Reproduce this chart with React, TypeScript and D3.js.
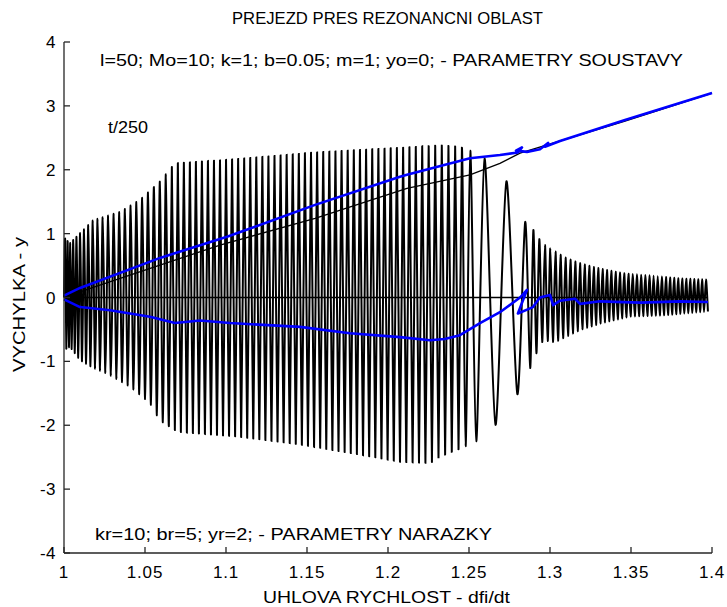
import React from "react";
import * as d3 from "d3";

// ---------- data ----------
const xTicks = [1, 1.05, 1.1, 1.15, 1.2, 1.25, 1.3, 1.35, 1.4];
const xTickLabels = ["1", "1.05", "1.1", "1.15", "1.2", "1.25", "1.3", "1.35", "1.4"];
const yTicks = [-4, -3, -2, -1, 0, 1, 2, 3, 4];
const yTickLabels = ["-4", "-3", "-2", "-1", "0", "1", "2", "3", "4"];

// upper envelope of the oscillation y(dfi/dt)
const upperX = [1.0, 1.0037, 1.018, 1.0346, 1.047, 1.059, 1.0685, 1.099, 1.155, 1.212, 1.232, 1.244, 1.2506, 1.265, 1.278, 1.284, 1.29, 1.295, 1.309, 1.317, 1.328, 1.345, 1.36, 1.38, 1.3975];
const upperY = [0.93, 0.85, 1.21, 1.34, 1.53, 1.81, 2.1, 2.15, 2.27, 2.35, 2.38, 2.36, 2.3, 2.1, 1.65, 1.2, 1.05, 0.85, 0.63, 0.55, 0.47, 0.38, 0.35, 0.3, 0.28];
// lower envelope
const lowerX = [1.0, 1.0037, 1.0099, 1.018, 1.028, 1.041, 1.053, 1.059, 1.07, 1.1086, 1.1457, 1.1827, 1.2074, 1.226, 1.235, 1.246, 1.2586, 1.271, 1.2846, 1.29, 1.2957, 1.303, 1.3185, 1.332, 1.349, 1.37, 1.3975];
const lowerY = [-0.82, -0.77, -0.98, -1.1, -1.21, -1.4, -1.65, -1.92, -2.1, -2.18, -2.3, -2.46, -2.57, -2.59, -2.46, -2.35, -2.2, -1.87, -1.32, -0.95, -0.67, -0.7, -0.51, -0.4, -0.3, -0.28, -0.22];
// oscillation period (in dfi/dt units) along the run
const periodX = [1.0, 1.01, 1.025, 1.06, 1.2, 1.245, 1.252, 1.258, 1.275, 1.282, 1.288, 1.3, 1.33, 1.4];
const periodV = [0.0014, 0.0024, 0.0034, 0.0037, 0.0038, 0.0042, 0.008, 0.0135, 0.0135, 0.008, 0.0038, 0.0032, 0.0027, 0.0024];

// thin black line "t/250"
const tLineX = [1.0, 1.018, 1.0963, 1.155, 1.2117, 1.2506, 1.2691, 1.2815, 1.3463, 1.4];
const tLineY = [0.0, 0.16, 0.82, 1.24, 1.71, 1.92, 2.1, 2.26, 2.76, 3.2];

// blue upper curve
const blueUpX = [1.0, 1.0099, 1.0593, 1.1006, 1.155, 1.2074, 1.2117, 1.2506, 1.2691, 1.2802, 1.2827, 1.279, 1.2858, 1.2938, 1.2988, 1.2969, 1.3062, 1.3463, 1.4];
const blueUpY = [0.03, 0.15, 0.62, 0.95, 1.45, 1.89, 1.92, 2.18, 2.23, 2.27, 2.35, 2.3, 2.28, 2.32, 2.42, 2.36, 2.45, 2.78, 3.2];
// blue lower curve
const blueLoX = [1.0, 1.0099, 1.0284, 1.0531, 1.0685, 1.084, 1.1025, 1.1457, 1.1765, 1.2074, 1.2259, 1.235, 1.2444, 1.2568, 1.2691, 1.2815, 1.2858, 1.2802, 1.2895, 1.2938, 1.3, 1.3019, 1.3062, 1.3154, 1.3185, 1.3309, 1.3556, 1.3802, 1.3975];
const blueLoY = [-0.03, -0.15, -0.2, -0.3, -0.4, -0.36, -0.4, -0.46, -0.56, -0.62, -0.67, -0.65, -0.59, -0.4, -0.23, 0.0, 0.12, -0.25, -0.15, 0.0, 0.04, -0.12, -0.05, -0.02, -0.1, -0.06, -0.08, -0.06, -0.07];

const zeroLineX = [1.0, 1.3975];
const zeroLineY = [0, 0];

const FONT = "'Liberation Sans', Arial, sans-serif";

export default function App() {
  const W = 727, H = 607;
  const x = d3.scaleLinear().domain([1, 1.4]).range([64, 712]);
  const y = d3.scaleLinear().domain([-4, 4]).range([553, 42]);

  const upEnv = d3.scaleLinear().domain(upperX).range(upperY).clamp(true);
  const loEnv = d3.scaleLinear().domain(lowerX).range(lowerY).clamp(true);
  const per = d3.scaleLinear().domain(periodX).range(periodV).clamp(true);

  // peaks of the oscillation, alternating between envelopes
  const osc: [number, number][] = [[1.0, 0]];
  let cx = 1.0;
  let up = true;
  const xEnd = 1.3975;
  while (cx < xEnd) {
    cx += per(cx) / 2;
    if (cx > xEnd) break;
    osc.push([cx, up ? upEnv(cx) : loEnv(cx)]);
    up = !up;
  }

  const zip = (a: number[], b: number[]) => a.map((v, i) => [v, b[i]] as [number, number]);
  const lineSmooth = d3.line<[number, number]>().x(d => x(d[0])).y(d => y(d[1])).curve(d3.curveCardinal.tension(0.2));
  const line = d3.line<[number, number]>().x(d => x(d[0])).y(d => y(d[1]));

  const axisColor = "#262626";
  const fs = 17;

  return (
    <svg width={W} height={H} style={{ position: "absolute", left: 0, top: 0, background: "#fff" }} fontFamily={FONT}>
      <rect width={W} height={H} fill="#fff" />
      {/* oscillation */}
      <path d={lineSmooth(osc) || ""} fill="none" stroke="#000" strokeWidth={2.0} />
      <path d={line(zip(zeroLineX, zeroLineY)) || ""} fill="none" stroke="#000" strokeWidth={1.3} />
      <path d={line(zip(tLineX, tLineY)) || ""} fill="none" stroke="#000" strokeWidth={1.3} />
      <path d={line(zip(blueUpX, blueUpY)) || ""} fill="none" stroke="#0000ff" strokeWidth={2.6} strokeLinejoin="round" />
      <path d={line(zip(blueLoX, blueLoY)) || ""} fill="none" stroke="#0000ff" strokeWidth={2.6} strokeLinejoin="round" />

      {/* axes */}
      <line x1={x(1)} x2={x(1)} y1={y(-4)} y2={y(4)} stroke={axisColor} strokeWidth={1.3} />
      <line x1={x(1)} x2={x(1.4)} y1={y(-4)} y2={y(-4)} stroke={axisColor} strokeWidth={1.3} />
      {yTicks.map((t, i) => (
        <g key={"y" + i}>
          <line x1={x(1)} x2={x(1) + 6} y1={y(t)} y2={y(t)} stroke={axisColor} strokeWidth={1.3} />
          <text x={x(1) - 8} y={y(t)} dy="0.36em" textAnchor="end" fontSize={fs} letterSpacing={0.5} fill="#000">{yTickLabels[i]}</text>
        </g>
      ))}
      {xTicks.map((t, i) => (
        <g key={"x" + i}>
          <line x1={x(t)} x2={x(t)} y1={y(-4)} y2={y(-4) - 6} stroke={axisColor} strokeWidth={1.3} />
          <text x={x(t)} y={y(-4) + 25} textAnchor="middle" fontSize={fs} letterSpacing={0.8} fill="#000">{xTickLabels[i]}</text>
        </g>
      ))}

      {/* texts */}
      <text x={232} y={24} textLength={311} lengthAdjust="spacingAndGlyphs" fontSize={fs} fill="#000">PREJEZD PRES REZONANCNI OBLAST</text>
      <text x={100} y={66} textLength={583} lengthAdjust="spacingAndGlyphs" fontSize={fs} fill="#000">l=50; Mo=10; k=1; b=0.05; m=1; yo=0; - PARAMETRY SOUSTAVY</text>
      <text x={108} y={133} textLength={40} lengthAdjust="spacingAndGlyphs" fontSize={fs} fill="#000">t/250</text>
      <text x={95} y={540} textLength={397} lengthAdjust="spacingAndGlyphs" fontSize={fs} fill="#000">kr=10; br=5; yr=2; -  PARAMETRY NARAZKY</text>
      <text x={263} y={603} textLength={247} lengthAdjust="spacingAndGlyphs" fontSize={fs} fill="#000">UHLOVA RYCHLOST - dfi/dt</text>
      <text transform={`translate(25,${372}) rotate(-90)`} textLength={135} lengthAdjust="spacingAndGlyphs" fontSize={fs} fill="#000">VYCHYLKA - y</text>
    </svg>
  );
}
